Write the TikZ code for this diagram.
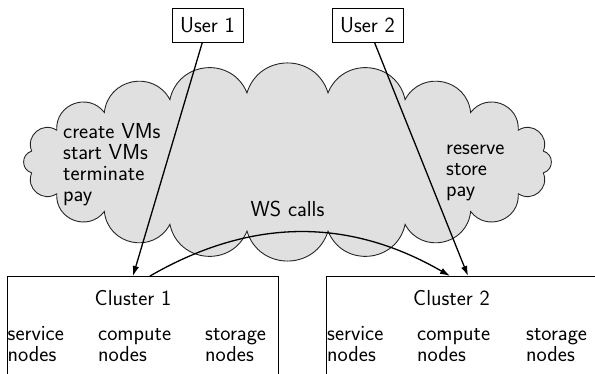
\documentclass[tikz,border=0pt]{standalone}
\usetikzlibrary{arrows.meta}
\begin{document}
\begin{tikzpicture}[x=1pt,y=1pt,
  font=\sffamily\fontsize{21.7}{21.3}\selectfont,
  userbox/.style={draw, line width=0.9pt, minimum width=71pt, minimum height=34pt, inner sep=0pt},
  clusterbox/.style={draw, line width=0.9pt, minimum width=271pt, minimum height=120pt, inner sep=0pt, anchor=north west},
  label/.style={inner sep=0pt, anchor=base west, align=left},
  puff/.style={bend right=73, looseness=1.32},
  cloudpath/.style={fill=black!12, draw=black!85, line width=0.9pt},
  arr/.style={-{Latex[length=10pt,width=6.5pt]}, line width=1.3pt}]
\useasboundingbox (0,0) rectangle (595,374);
\begin{scope}
\clip (0,0) rectangle (595,374);

% the cloud: puffs between cusps spaced evenly on an ellipse
\foreach \k in {0,...,19}
  \coordinate (cp\k) at ({287.5+259*cos(-9+18*\k)},{212+70*sin(-9+18*\k)});
\path[cloudpath] (cp0) \foreach \k in {1,...,19}{ to[puff] (cp\k) } to[puff] (cp0) -- cycle;

% operations offered by the cloud (base = baseline of the last line)
\node[label] (ops1) at (63,172) {create VMs\\start VMs\\terminate\\pay};
\node[label] (ops2) at (446,177) {reserve\\store\\pay};
\node[inner sep=0pt, anchor=base] (ws) at (287.5,157) {WS calls};

% users
\node[userbox] (u1) at (207.5,349) {User 1};
\node[userbox] (u2) at (367.5,349) {User 2};

% clusters
\node[clusterbox] (c1) at (7,98) {};
\node[clusterbox] (c2) at (326,98) {};
\node[inner sep=0pt, anchor=base] (c1t) at (133,68) {Cluster 1};
\node[inner sep=0pt, anchor=base] (c2t) at (451.5,68) {Cluster 2};
\node[label] (c1s) at (7.5,12) {service\\nodes};
\node[label] (c1c) at (98,12) {compute\\nodes};
\node[label] (c1g) at (205,12) {storage\\nodes};
\node[label] (c2s) at (327,12) {service\\nodes};
\node[label] (c2c) at (417,12) {compute\\nodes};
\node[label] (c2g) at (526,12) {storage\\nodes};

% connectors
\coordinate (t1) at (133,98);
\coordinate (t2) at (468,98);
\coordinate (w1) at (150,98);
\coordinate (w2) at (450,98);
\draw[arr] (u1) -- (t1);
\draw[arr] (u2) -- (t2);
\draw[arr] (w1) to[bend left=30] (w2);
\end{scope}
\end{tikzpicture}
\end{document}
